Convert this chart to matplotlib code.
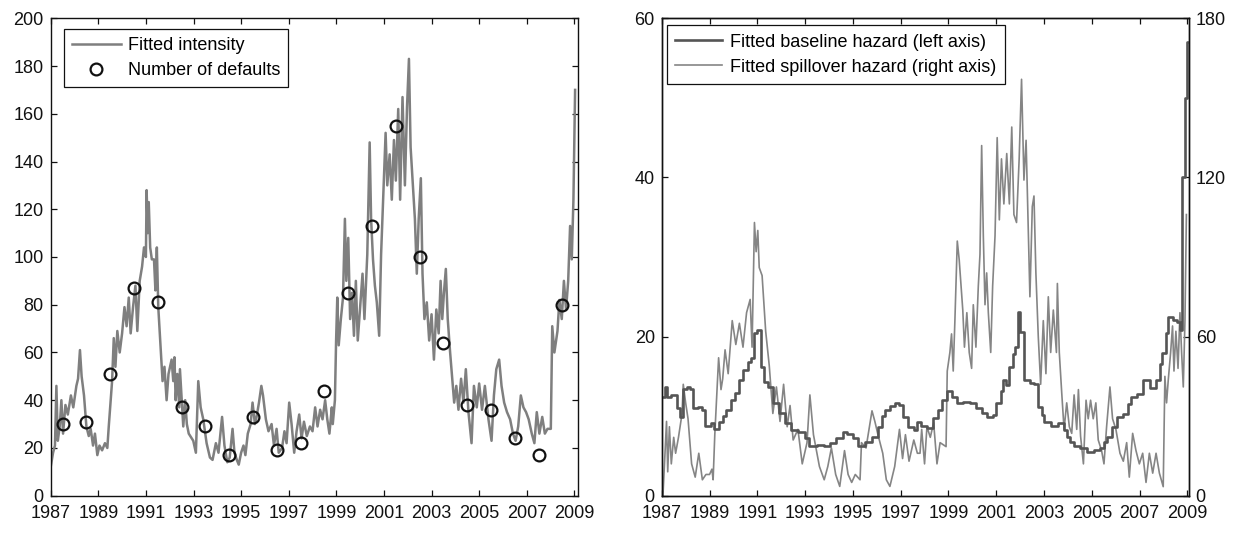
import numpy as np
import matplotlib
matplotlib.use("Agg")
import matplotlib.pyplot as plt

plt.rcParams['font.family'] = ['Liberation Sans', 'DejaVu Sans']
plt.rcParams['font.size'] = 13

# ---- left panel: fitted intensity and yearly defaults ----
intensity_t = [
    1987.00, 1987.10, 1987.18, 1987.24, 1987.30, 1987.38, 1987.45, 1987.52, 1987.62, 1987.72,
    1987.85, 1987.95, 1988.08, 1988.15, 1988.23, 1988.30, 1988.40, 1988.50, 1988.60, 1988.68,
    1988.78, 1988.86, 1988.96, 1989.05, 1989.16, 1989.28, 1989.38, 1989.44, 1989.50, 1989.58,
    1989.65, 1989.72, 1989.80, 1989.90, 1990.00, 1990.10, 1990.19, 1990.28, 1990.36, 1990.46,
    1990.56, 1990.64, 1990.74, 1990.84, 1990.92, 1991.00, 1991.03, 1991.08, 1991.12, 1991.18,
    1991.25, 1991.34, 1991.40, 1991.46, 1991.52, 1991.60, 1991.70, 1991.78, 1991.87, 1991.95,
    1992.08, 1992.15, 1992.20, 1992.25, 1992.32, 1992.40, 1992.43, 1992.50, 1992.57, 1992.65,
    1992.72, 1992.80, 1992.99, 1993.10, 1993.20, 1993.30, 1993.41, 1993.55, 1993.69, 1993.80,
    1993.94, 1994.05, 1994.20, 1994.30, 1994.42, 1994.52, 1994.64, 1994.72, 1994.82, 1994.90,
    1995.00, 1995.10, 1995.18, 1995.28, 1995.40, 1995.48, 1995.58, 1995.65, 1995.75, 1995.85,
    1995.92, 1996.04, 1996.15, 1996.28, 1996.38, 1996.49, 1996.58, 1996.72, 1996.82, 1996.91,
    1997.02, 1997.12, 1997.23, 1997.33, 1997.44, 1997.54, 1997.64, 1997.76, 1997.89, 1998.00,
    1998.11, 1998.21, 1998.32, 1998.42, 1998.53, 1998.62, 1998.71, 1998.81, 1998.85, 1998.94,
    1998.99, 1999.04, 1999.10, 1999.19, 1999.28, 1999.36, 1999.42, 1999.50, 1999.58, 1999.66,
    1999.74, 1999.82, 1999.90, 2000.00, 2000.10, 2000.18, 2000.30, 2000.40, 2000.46, 2000.54,
    2000.62, 2000.70, 2000.80, 2000.88, 2000.97, 2001.07, 2001.14, 2001.24, 2001.33, 2001.42,
    2001.50, 2001.60, 2001.68, 2001.78, 2001.88, 2001.97, 2002.05, 2002.12, 2002.20, 2002.30,
    2002.38, 2002.46, 2002.55, 2002.62, 2002.70, 2002.80, 2002.90, 2003.00, 2003.10, 2003.20,
    2003.30, 2003.38, 2003.45, 2003.52, 2003.60, 2003.68, 2003.78, 2003.87, 2003.95, 2004.04,
    2004.13, 2004.24, 2004.34, 2004.44, 2004.55, 2004.68, 2004.78, 2004.90, 2005.00, 2005.12,
    2005.24, 2005.39, 2005.52, 2005.62, 2005.72, 2005.84, 2005.94, 2006.05, 2006.17, 2006.30,
    2006.42, 2006.53, 2006.64, 2006.75, 2006.86, 2006.97, 2007.08, 2007.21, 2007.32, 2007.42,
    2007.53, 2007.65, 2007.76, 2007.87, 2008.01, 2008.07, 2008.16, 2008.29, 2008.37, 2008.47,
    2008.56, 2008.65, 2008.74, 2008.82, 2008.89, 2008.96, 2009.03,
]
intensity = [
    12, 18, 21, 46, 23, 29, 40, 26, 38, 34,
    42, 37, 46, 49, 61, 50, 42, 29, 25, 28,
    21, 26, 17, 21, 19, 22, 20, 29, 37, 48,
    66, 54, 69, 60, 68, 79, 71, 83, 68, 79,
    88, 69, 90, 96, 104, 100, 128, 110, 123, 104,
    99, 99, 86, 104, 79, 65, 48, 54, 40, 51,
    57, 48, 58, 40, 51, 37, 53, 41, 29, 40,
    30, 26, 23, 18, 48, 37, 32, 22, 16, 15,
    22, 18, 33, 21, 14, 16, 28, 18, 15, 13,
    18, 21, 17, 26, 30, 39, 30, 33, 39, 46,
    42, 32, 27, 30, 21, 28, 18, 20, 27, 22,
    39, 30, 18, 27, 34, 24, 31, 25, 29, 27,
    37, 29, 36, 32, 40, 32, 26, 37, 30, 40,
    65, 83, 63, 74, 83, 116, 90, 108, 74, 85,
    67, 90, 65, 79, 93, 74, 101, 148, 116, 99,
    88, 81, 67, 101, 125, 152, 130, 143, 124, 149,
    132, 162, 124, 167, 130, 163, 183, 146, 133, 116,
    93, 116, 133, 93, 74, 81, 65, 76, 57, 78,
    68, 90, 74, 85, 95, 74, 60, 49, 39, 46,
    36, 49, 39, 53, 35, 22, 46, 37, 47, 36,
    46, 32, 23, 42, 53, 57, 46, 39, 35, 32,
    26, 23, 29, 42, 37, 35, 32, 26, 22, 35,
    26, 33, 26, 28, 28, 71, 60, 69, 82, 74,
    90, 78, 90, 113, 99, 124, 170,
]

default_years = [1987.5, 1988.5, 1989.5, 1990.5, 1991.5, 1992.5, 1993.5, 1994.5,
                 1995.5, 1996.5, 1997.5, 1998.5, 1999.5, 2000.5, 2001.5, 2002.5,
                 2003.5, 2004.5, 2005.5, 2006.5, 2007.5, 2008.5]
default_counts = [30, 31, 51, 87, 81, 37, 29, 17, 33, 19, 22, 44, 85, 113, 155, 100,
                  64, 38, 36, 24, 17, 80]

# ---- right panel: baseline hazard (left axis) ----
baseline_t = [
    1987.00, 1987.12, 1987.22, 1987.40, 1987.65, 1987.77, 1987.90, 1988.05, 1988.20, 1988.30,
    1988.50, 1988.70, 1988.80, 1989.05, 1989.20, 1989.40, 1989.55, 1989.70, 1989.90, 1990.05,
    1990.25, 1990.40, 1990.60, 1990.75, 1990.88, 1990.98, 1991.15, 1991.30, 1991.45, 1991.65,
    1991.90, 1992.15, 1992.40, 1992.70, 1993.00, 1993.15, 1993.50, 1993.80, 1994.05, 1994.30,
    1994.60, 1994.75, 1995.00, 1995.20, 1995.50, 1995.80, 1996.05, 1996.20, 1996.35, 1996.55,
    1996.75, 1996.95, 1997.10, 1997.30, 1997.55, 1997.70, 1997.85, 1998.10, 1998.35, 1998.55,
    1998.75, 1998.92, 1999.15, 1999.34, 1999.60, 1999.90, 2000.15, 2000.40, 2000.60, 2000.85,
    2001.00, 2001.20, 2001.30, 2001.40, 2001.55, 2001.70, 2001.80, 2001.93, 2002.00, 2002.15,
    2002.40, 2002.60, 2002.75, 2002.90, 2003.00, 2003.30, 2003.60, 2003.85, 2003.95, 2004.10,
    2004.25, 2004.50, 2004.78, 2005.10, 2005.35, 2005.50, 2005.65, 2005.85, 2006.04, 2006.30,
    2006.50, 2006.65, 2006.90, 2007.15, 2007.45, 2007.70, 2007.85, 2007.95, 2008.10, 2008.20,
    2008.40, 2008.55, 2008.68, 2008.76, 2008.90, 2008.97, 2009.05,
]
baseline = [
    12.4, 13.7, 12.4, 12.6, 11.0, 9.9, 13.4, 13.7, 13.4, 11.0,
    11.2, 10.8, 8.7, 9.1, 8.4, 9.3, 10.0, 10.8, 12.0, 12.9,
    14.5, 15.8, 16.8, 17.3, 20.4, 20.8, 16.2, 14.3, 13.7, 11.6,
    10.4, 9.1, 8.3, 8.0, 7.2, 6.3, 6.4, 6.2, 6.6, 7.2,
    8.0, 7.8, 7.3, 6.3, 6.7, 7.4, 8.6, 10.0, 10.8, 11.3,
    11.6, 11.4, 9.9, 8.6, 8.3, 9.3, 8.7, 8.5, 9.8, 10.8,
    12.0, 13.1, 12.4, 11.6, 11.8, 11.7, 11.0, 10.4, 9.9, 10.1,
    11.6, 13.2, 14.5, 13.9, 16.2, 17.8, 18.7, 23.1, 20.6, 14.5,
    14.2, 14.0, 11.2, 10.1, 9.3, 8.7, 9.1, 8.2, 7.4, 6.8,
    6.2, 6.0, 5.5, 5.7, 6.0, 6.8, 7.4, 8.6, 9.9, 10.3,
    11.5, 12.4, 12.8, 14.5, 13.5, 14.5, 16.5, 17.9, 20.5, 22.5,
    22.1, 21.8, 20.8, 40.0, 50.0, 57.0, 57.0,
]

# ---- right panel: spillover hazard (right axis) ----
spill_t = [
    1987.00, 1987.05, 1987.20, 1987.25, 1987.32, 1987.40, 1987.50, 1987.58, 1987.70, 1987.85,
    1987.90, 1988.00, 1988.10, 1988.25, 1988.40, 1988.55, 1988.70, 1988.85, 1989.00, 1989.10,
    1989.15, 1989.22, 1989.38, 1989.48, 1989.55, 1989.65, 1989.78, 1989.95, 1990.10, 1990.25,
    1990.40, 1990.55, 1990.70, 1990.78, 1990.88, 1990.95, 1991.02, 1991.08, 1991.20, 1991.35,
    1991.50, 1991.65, 1991.80, 1991.95, 1992.10, 1992.25, 1992.37, 1992.50, 1992.70, 1992.88,
    1993.08, 1993.20, 1993.35, 1993.60, 1993.80, 1993.95, 1994.10, 1994.28, 1994.45, 1994.65,
    1994.80, 1994.95, 1995.10, 1995.30, 1995.36, 1995.55, 1995.80, 1995.92, 1996.05, 1996.25,
    1996.40, 1996.55, 1996.75, 1996.95, 1997.08, 1997.20, 1997.35, 1997.55, 1997.70, 1997.81,
    1997.88, 1998.00, 1998.10, 1998.24, 1998.38, 1998.52, 1998.65, 1998.90, 1998.95, 1999.06,
    1999.13, 1999.20, 1999.27, 1999.37, 1999.45, 1999.53, 1999.60, 1999.67, 1999.77, 1999.87,
    1999.97, 2000.04, 2000.15, 2000.25, 2000.32, 2000.39, 2000.46, 2000.53, 2000.60, 2000.67,
    2000.77, 2000.85, 2000.95, 2001.04, 2001.13, 2001.22, 2001.32, 2001.44, 2001.55, 2001.65,
    2001.74, 2001.85, 2001.96, 2002.06, 2002.16, 2002.25, 2002.34, 2002.41, 2002.51, 2002.58,
    2002.66, 2002.76, 2002.86, 2002.97, 2003.08, 2003.18, 2003.28, 2003.39, 2003.47, 2003.52,
    2003.56, 2003.64, 2003.74, 2003.84, 2003.95, 2004.06, 2004.16, 2004.26, 2004.37, 2004.44,
    2004.53, 2004.65, 2004.76, 2004.85, 2004.95, 2005.06, 2005.17, 2005.27, 2005.41, 2005.51,
    2005.62, 2005.76, 2005.87, 2006.01, 2006.18, 2006.32, 2006.46, 2006.57, 2006.71, 2006.85,
    2006.99, 2007.13, 2007.27, 2007.41, 2007.55, 2007.69, 2007.83, 2007.99, 2008.06, 2008.13,
    2008.20, 2008.30, 2008.38, 2008.44, 2008.52, 2008.61, 2008.69, 2008.76, 2008.83, 2008.90,
    2008.96,
]
spillover = [
    0, 0, 28, 9, 26, 12, 22, 16, 22, 31,
    42, 35, 29, 12, 7, 16, 6, 8, 8, 10,
    6, 23, 52, 40, 44, 55, 46, 66, 57, 65,
    56, 69, 74, 56, 103, 92, 100, 86, 83, 62,
    49, 31, 41, 28, 42, 26, 34, 21, 25, 12,
    20, 38, 23, 11, 6, 11, 18, 8, 3.5, 17,
    8, 5, 8, 6, 20, 18, 32, 28, 23, 16,
    6, 3.5, 11, 25, 14, 23, 13, 21, 16, 16,
    25, 12, 26, 22, 27.5, 12, 20, 18.5, 47, 54,
    61, 47, 66, 96, 89, 79, 70, 56, 69, 54,
    48, 72, 56, 79, 91, 132, 98, 72, 84, 69,
    54, 79, 98, 135, 104, 127, 110, 129, 110, 139,
    106, 103, 127, 157, 119, 134, 101, 75, 109, 113,
    84, 60, 42, 66, 46, 75, 54, 70, 60, 54,
    80, 54, 39, 25, 35, 26, 23.5, 38, 25, 40,
    22.5, 12, 36, 29, 36, 29, 35, 21, 17, 12,
    26, 41, 29, 25, 16, 13, 20, 7, 23.5, 17,
    12, 16, 5, 16, 8.5, 16, 8.5, 3.4, 45, 35,
    43.5, 54, 64, 47, 62, 48, 69, 54, 41, 66,
    106,
]

year_ticks = list(range(1987, 2010, 2))

fig = plt.figure(figsize=(12.36, 5.33), dpi=100)
fig.patch.set_facecolor('white')


def style_axes(ax):
    ax.tick_params(direction='in', length=4, width=0.9, colors='#111111', labelsize=13,
                   top=True)
    ax.tick_params(axis='x', pad=7)
    ax.tick_params(axis='y', pad=5)
    for s in ax.spines.values():
        s.set_linewidth(1.0)
        s.set_color('#111111')


# left panel
ax1 = fig.add_axes([0.041, 0.07, 0.4266, 0.8957])
ax1.plot(intensity_t, intensity, color='#7f7f7f', lw=1.8, label='Fitted intensity')
ax1.plot(default_years, default_counts, ls='none', marker='o', ms=8.5, mfc='none',
         mec='#111111', mew=1.6, label='Number of defaults')
ax1.set_xlim(1987, 2009.15)
ax1.set_ylim(0, 200)
ax1.set_xticks(year_ticks)
ax1.set_yticks(range(0, 201, 20))
style_axes(ax1)
ax1.tick_params(right=True)
leg1 = ax1.legend(loc='upper left', bbox_to_anchor=(0.025, 0.978), fancybox=False,
                  framealpha=1, edgecolor='#111111', fontsize=13, handlelength=2.7,
                  borderpad=0.45, labelspacing=0.45, handletextpad=0.4, borderaxespad=0)
leg1.get_frame().set_linewidth(0.9)

# right panel
ax2 = fig.add_axes([0.5354, 0.07, 0.4264, 0.8957])
ax3 = ax2.twinx()
l1, = ax2.plot(baseline_t, baseline, color='#555555', lw=1.9, drawstyle='steps-post',
               label='Fitted baseline hazard (left axis)')
l2, = ax3.plot(spill_t, spillover, color='#858585', lw=1.2,
               label='Fitted spillover hazard (right axis)')
ax2.set_zorder(ax3.get_zorder() + 1)
ax2.patch.set_visible(False)
ax2.set_xlim(1987, 2009.06)
ax2.set_ylim(0, 60)
ax3.set_ylim(0, 180)
ax2.set_xticks(year_ticks)
ax2.set_yticks([0, 20, 40, 60])
ax3.set_yticks([0, 60, 120, 180])
style_axes(ax2)
style_axes(ax3)
ax2.tick_params(right=False)
leg2 = ax2.legend(handles=[l1, l2], loc='upper left', bbox_to_anchor=(0.01, 0.985),
                  fancybox=False, framealpha=1, edgecolor='#111111', fontsize=13,
                  handlelength=2.6, borderpad=0.45, labelspacing=0.45, handletextpad=0.45,
                  borderaxespad=0)
leg2.get_frame().set_linewidth(0.9)

fig.savefig('out.png', dpi=100, facecolor='white')
